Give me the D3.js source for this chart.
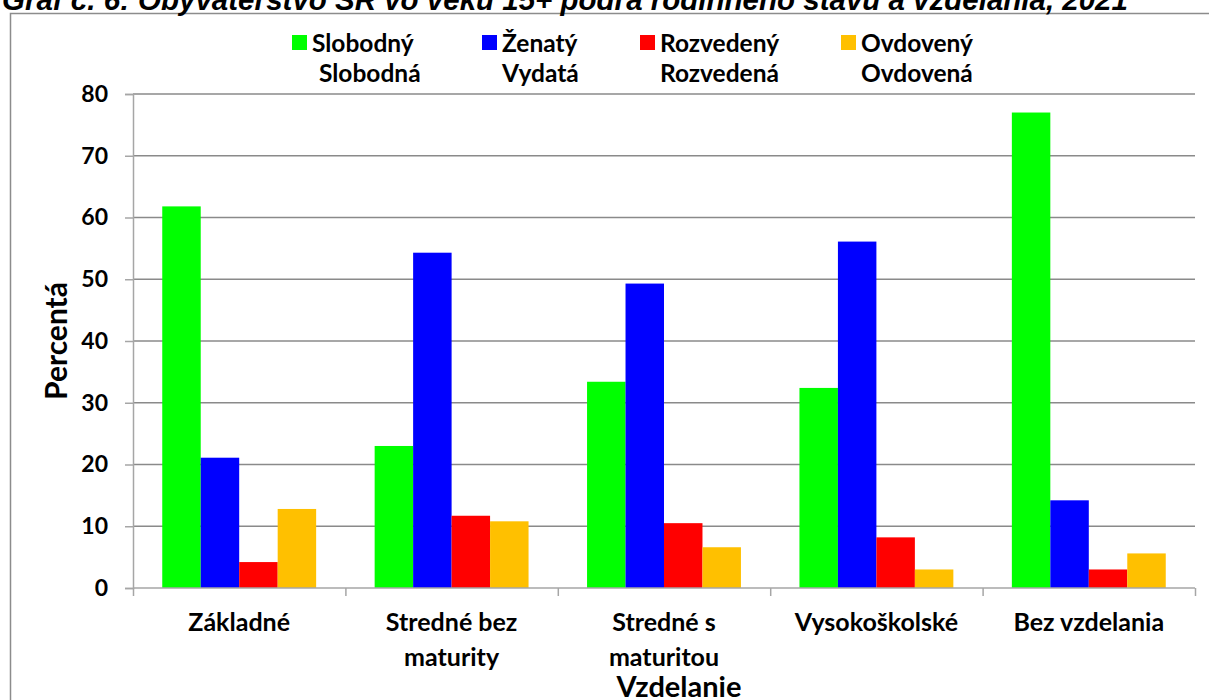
<!DOCTYPE html>
<html><head><meta charset="utf-8">
<script src="https://cdn.jsdelivr.net/npm/d3@7"></script>
<style>
html,body{margin:0;padding:0;background:#fff;overflow:hidden}
text{font-family:Lato,"Open Sans",sans-serif;font-weight:bold;fill:#000}
</style></head><body>
<svg id="c" width="1209" height="700"></svg>
<script>
const title = "Graf č. 6: Obyvateľstvo SR vo veku 15+ podľa rodinného stavu a vzdelania, 2021";
const categories = [["Základné"],["Stredné bez","maturity"],["Stredné s","maturitou"],["Vysokoškolské"],["Bez vzdelania"]];
const seriesNames = [["Slobodný","Slobodná"],["Ženatý","Vydatá"],["Rozvedený","Rozvedená"],["Ovdovený","Ovdovená"]];
const seriesColors = ["#00FF00","#0000FF","#FF0000","#FFC000"];
const slobodny = [61.8, 23.0, 33.4, 32.4, 77.0];
const zenaty   = [21.1, 54.3, 49.3, 56.1, 14.2];
const rozvedeny= [4.2, 11.7, 10.5, 8.2, 3.0];
const ovdoveny = [12.8, 10.8, 6.6, 3.0, 5.6];
const yTicks = [0,10,20,30,40,50,60,70,80];
const yTitle = "Percentá";
const xTitle = "Vzdelanie";

const series = [slobodny, zenaty, rozvedeny, ovdoveny];
const svg = d3.select("#c");
const L = 133, R = 1195, T = 94, B = 588;

// outer frame
svg.append("path").attr("d", `M10.5,740 V13.5 H1209`).attr("fill","none").attr("stroke","#8c8c8c").attr("stroke-width",1.5);

// title
svg.append("text").attr("x",2).attr("y",10).text(title)
  .style("font-family","'Liberation Sans',Arial,sans-serif").style("font-style","italic")
  .style("font-size","29.5px");

const catIdx = d3.range(categories.length);
const x0 = d3.scaleBand().domain(catIdx).range([L,R]).paddingInner(0).paddingOuter(0);
const gapFrac = 58.5/212.4;
const x1 = d3.scaleBand().domain(d3.range(series.length))
  .range([x0.bandwidth()*gapFrac/2, x0.bandwidth()*(1-gapFrac/2)]);
const y = d3.scaleLinear().domain([0,80]).range([B,T]);

// gridlines
svg.append("g").selectAll("line").data(yTicks.filter(d=>d>0)).join("line")
  .attr("x1",L).attr("x2",R).attr("y1",d=>y(d)).attr("y2",d=>y(d))
  .attr("stroke","#8a8a8a").attr("stroke-width",1.5);

// bars
const g = svg.append("g");
series.forEach((s,si)=>{
  g.selectAll(null).data(s).join("rect")
    .attr("x",(d,i)=>x0(i)+x1(si)).attr("width",x1.bandwidth())
    .attr("y",d=>y(d)).attr("height",d=>B-y(d))
    .attr("fill",seriesColors[si]);
});

// y axis
const yAxis = d3.axisLeft(y).tickValues(yTicks).tickSize(8).tickPadding(17);
const ya = svg.append("g").attr("transform",`translate(${L},0)`).call(yAxis);
ya.select(".domain").attr("stroke","#a6a6a6").attr("stroke-width",1.5);
ya.selectAll(".tick line").attr("stroke","#a6a6a6").attr("stroke-width",1.5);
ya.selectAll(".tick text").style("font-size","23px").style("font-family","Lato,sans-serif").attr("fill","#000");

// x axis
const xAxis = d3.axisBottom(d3.scaleLinear().domain([0,categories.length]).range([L,R]))
  .tickValues(d3.range(categories.length+1)).tickSize(8).tickFormat("");
const xa = svg.append("g").attr("transform",`translate(0,${B})`).call(xAxis);
xa.select(".domain").attr("stroke","#a6a6a6").attr("stroke-width",1.5).attr("d",`M${L},0H${R}`);
xa.selectAll(".tick line").attr("stroke","#a6a6a6").attr("stroke-width",1.5);

// category labels
const cl = svg.append("g").selectAll("text").data(categories).join("text")
  .attr("text-anchor","middle").style("font-size","25px");
cl.each(function(lines,i){
  d3.select(this).selectAll("tspan").data(lines).join("tspan")
    .attr("x",x0(i)+x0.bandwidth()/2).attr("y",(d,j)=>631+j*35).text(d=>d);
});

// axis titles
svg.append("text").attr("transform",`translate(67,341) rotate(-90)`).attr("text-anchor","middle")
  .style("font-size","30px").text(yTitle);
svg.append("text").attr("x",x0(2)+x0.bandwidth()/2 + 15).attr("y",697).attr("text-anchor","middle")
  .style("font-size","29px").text(xTitle);

// legend
const legX = [292, 482, 640, 841];
const lg = svg.append("g").selectAll("g").data(seriesNames).join("g")
  .attr("transform",(d,i)=>`translate(${legX[i]},0)`);
lg.append("rect").attr("x",0).attr("y",35).attr("width",15).attr("height",15).attr("fill",(d,i)=>seriesColors[i]);
lg.append("text").attr("x",20).attr("y",52).style("font-size","24.5px").text(d=>d[0]);
lg.append("text").attr("x",(d,i)=>i===0?27:20).attr("y",82).style("font-size","24.5px").text(d=>d[1]);
</script>
</body></html>
